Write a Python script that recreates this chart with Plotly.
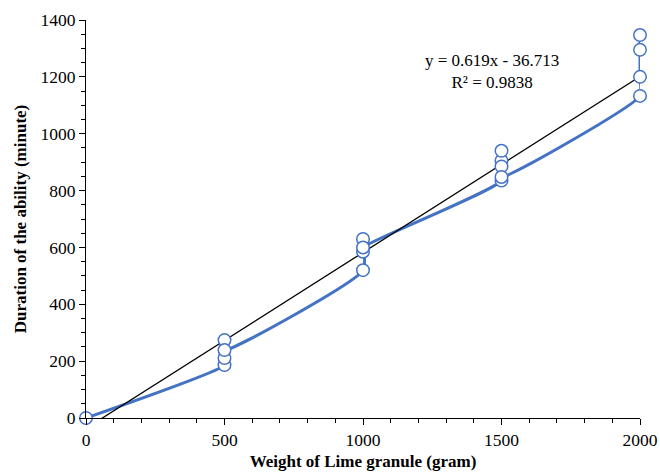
import plotly.graph_objects as go

# Data (in the order the smoothed line visits them)
weight = [0, 500, 500, 500, 500, 1000, 1000, 1000, 1000,
          1500, 1500, 1500, 1500, 1500, 2000, 2000, 2000, 2000]
duration = [0, 186, 211, 274, 239, 520, 630, 585, 600,
            835, 905, 940, 885, 848, 1133, 1200, 1295, 1347]

slope = 0.619
intercept = -36.713
r2 = 0.9838
trend_x = [0, 2000]
trend_y = [slope * v + intercept for v in trend_x]

x_ticks = [0, 500, 1000, 1500, 2000]
y_ticks = [0, 200, 400, 600, 800, 1000, 1200, 1400]

blue = "#4472C4"
font_family = "Liberation Serif"

fig = go.Figure()
fig.add_trace(go.Scatter(
    x=weight, y=duration, mode="lines",
    line=dict(color=blue, width=3, shape="spline", smoothing=0.5),
    showlegend=False, hoverinfo="skip"))
fig.add_trace(go.Scatter(
    x=trend_x, y=trend_y, mode="lines",
    line=dict(color="black", width=1.3),
    showlegend=False))
fig.add_trace(go.Scatter(
    x=weight, y=duration, mode="markers",
    marker=dict(symbol="circle", size=12.5, color="white",
                line=dict(color=blue, width=1.5)),
    cliponaxis=False, showlegend=False))

fig.add_annotation(x=1465, y=1220, xref="x", yref="y",
                   text=f"y = {slope}x - {abs(intercept)}<br>R² = {r2}",
                   showarrow=False, align="center",
                   font=dict(family=font_family, size=17, color="black"))

fig.update_layout(
    width=660, height=474,
    margin=dict(l=86, r=20, t=20, b=56),
    paper_bgcolor="white", plot_bgcolor="white",
    font=dict(family=font_family, size=17, color="black"),
)
fig.update_xaxes(
    range=[0, 2000], tickvals=x_ticks, automargin=False,
    showgrid=False, zeroline=False, showline=True, linecolor="black", linewidth=1,
    ticks="outside", ticklen=6, tickcolor="black",
    minor=dict(dtick=100, ticks="outside", ticklen=4, tickcolor="black", showgrid=False),
    title=dict(text="<b>Weight of Lime granule (gram)</b>", standoff=6,
               font=dict(family=font_family, size=17)),
    tickfont=dict(family=font_family, size=17.5),
)
fig.update_yaxes(
    range=[0, 1400], tickvals=y_ticks, automargin=False,
    showgrid=False, zeroline=False, showline=True, linecolor="black", linewidth=1,
    ticks="outside", ticklen=6, tickcolor="black",
    minor=dict(dtick=50, ticks="outside", ticklen=4, tickcolor="black", showgrid=False),
    title=dict(text="<b>Duration of the ability (minute)</b>", standoff=9,
               font=dict(family=font_family, size=17)),
    tickfont=dict(family=font_family, size=17.5),
)

fig.write_html("out.html", config={"displayModeBar": False},
               post_script="document.body.style.margin='0';")
